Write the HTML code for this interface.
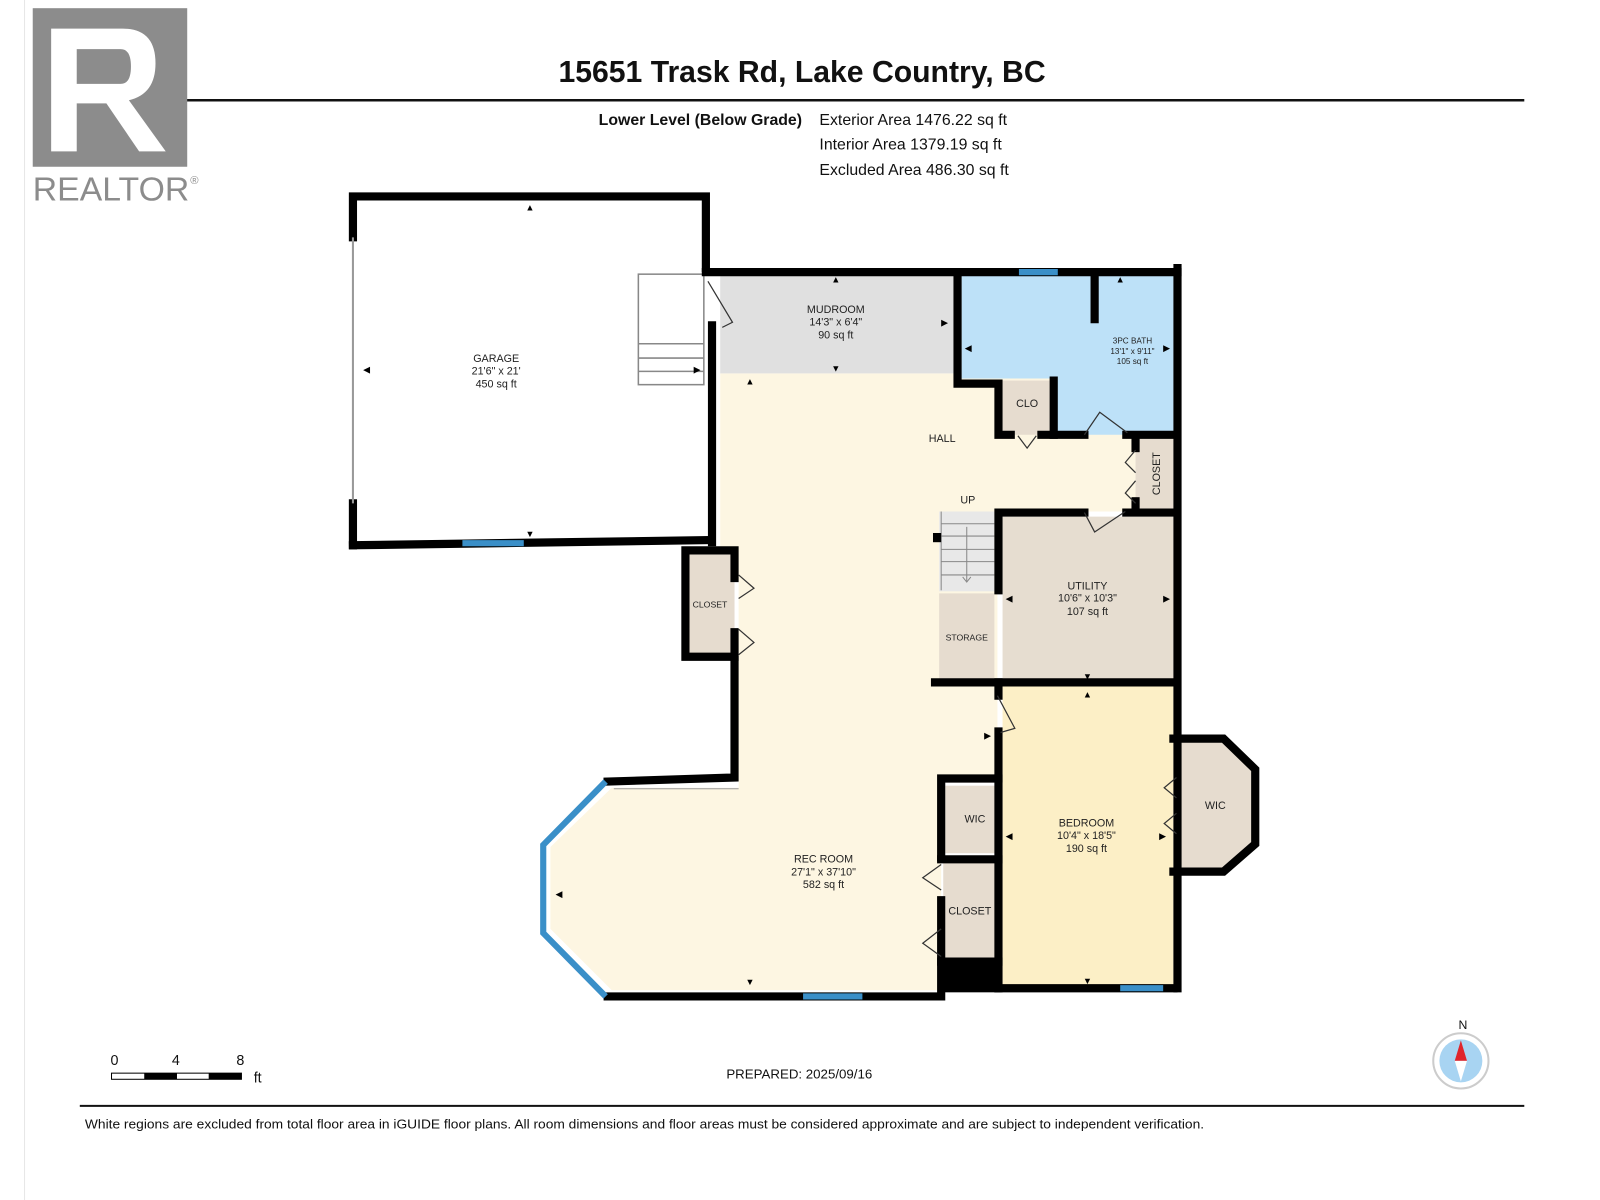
<!DOCTYPE html>
<html><head><meta charset="utf-8"><style>
html,body{margin:0;padding:0;background:#fff;}
svg{display:block;}
text{font-family:"Liberation Sans",Arial,sans-serif;}
</style></head><body>
<svg width="1600" height="1200" viewBox="0 0 1564 1173" xmlns="http://www.w3.org/2000/svg">
<rect width="1564" height="1173" fill="#fff"/>
<line x1="24" y1="0" x2="24" y2="1173" stroke="#e6e6e6" stroke-width="1"/>
<!-- header -->
<line x1="80" y1="98" x2="1490" y2="98" stroke="#111" stroke-width="2.5"/>
<rect x="32" y="8" width="151" height="155" fill="#8c8c8c"/>
<path d="M50 28 H120 Q152 28 152 62 Q152 92 126 98 L162 148 H136 L104 101 H75 V148 H50 Z M75 48 V82 H118 Q128 82 128 65 Q128 48 118 48 Z" fill="#fff"/>
<text x="32" y="196" font-size="33" fill="#8c8c8c" textLength="153">REALTOR</text>
<text x="186" y="180" font-size="11" fill="#8c8c8c">®</text>
<text x="784" y="80" font-size="29.5" font-weight="bold" text-anchor="middle" fill="#111">15651 Trask Rd, Lake Country, BC</text>
<text x="784" y="122" font-size="15.5" font-weight="bold" text-anchor="end" fill="#111">Lower Level (Below Grade)</text>
<text x="801" y="122" font-size="15.5" fill="#111">Exterior Area 1476.22 sq ft</text>
<text x="801" y="146" font-size="15.5" fill="#111">Interior Area 1379.19 sq ft</text>
<text x="801" y="171" font-size="15.5" fill="#111">Excluded Area 486.30 sq ft</text>

<!-- fills -->
<polygon points="704,365 1110,365 1110,500 975,500 975,765 920,765 920,968 598,968 538,908 538,828 598,770 722,770 722,540 704,540" fill="#fdf6e2"/>
<rect x="704" y="268" width="228" height="97" fill="#e0e0e0"/>
<polygon points="940,268 1147,268 1147,425 1030,425 1030,370 940,370" fill="#bde1f8"/>
<rect x="980" y="372" width="50" height="53" fill="#e6dccf"/>
<rect x="1110" y="428" width="37" height="70" fill="#e6dccf"/>
<rect x="980" y="505" width="167" height="160" fill="#e6ddd0"/>
<rect x="918" y="500" width="54" height="78" fill="#e8e8e8"/>
<g stroke="#888" stroke-width="1"><line x1="920" y1="512" x2="972" y2="512"/><line x1="920" y1="524" x2="972" y2="524"/><line x1="920" y1="537" x2="972" y2="537"/><line x1="920" y1="549" x2="972" y2="549"/><line x1="920" y1="562" x2="972" y2="562"/><line x1="920" y1="500" x2="920" y2="577"/><line x1="945" y1="515" x2="945" y2="568"/><polyline points="941,564 945,569 949,564" fill="none"/></g>
<rect x="918" y="580" width="54" height="85" fill="#e6dccf"/>
<rect x="980" y="670" width="167" height="293" fill="#fcefc6"/>
<polygon points="1152,722 1195,722 1228,752 1228,825 1195,852 1152,852" fill="#e6dccf"/>
<rect x="924" y="768" width="56" height="66" fill="#e6dccf"/>
<rect x="922" y="840" width="53" height="100" fill="#e6dccf"/>
<rect x="668" y="538" width="50" height="105" fill="#e6dccf"/>
<!-- garage stairs -->
<g stroke="#888" stroke-width="1.5" fill="#fff"><rect x="624" y="268" width="64" height="108"/><line x1="624" y1="336" x2="688" y2="336"/><line x1="624" y1="350" x2="688" y2="350"/><line x1="624" y1="363" x2="688" y2="363"/></g>

<!-- walls -->
<g fill="none" stroke="#000" stroke-width="8" stroke-linecap="square">
<polyline points="345,232 345,192 690,192 690,262"/>
<line x1="345" y1="492" x2="345" y2="533"/>
<polyline points="345,533 690,528"/>
<line x1="696" y1="318" x2="696" y2="530"/>
<line x1="690" y1="266" x2="1151" y2="266"/>
<polyline points="936,266 936,375 976,375 976,425 988,425"/>
<line x1="1018" y1="425" x2="1060" y2="425"/>
<line x1="1070" y1="266" x2="1070" y2="312"/>
<line x1="1030" y1="372" x2="1030" y2="425"/>
<line x1="1101" y1="425" x2="1147" y2="425"/>
<line x1="1151" y1="262" x2="1151" y2="966"/>
<polyline points="976,577 976,501 1060,501"/>
<line x1="1101" y1="501" x2="1147" y2="501"/>
<line x1="914" y1="667" x2="1147" y2="667"/>
<line x1="976" y1="667" x2="976" y2="680"/>
<polyline points="976,715 976,761 920,761 920,838"/>
<line x1="976" y1="761" x2="976" y2="966"/>
<line x1="920" y1="840" x2="976" y2="840"/>
<line x1="920" y1="940" x2="976" y2="940"/>
<line x1="976" y1="966" x2="1147" y2="966"/>
<polyline points="718,565 718,538 670,538 670,642 718,642 718,618"/>
<polyline points="718,645 718,760 594,764"/>
<polyline points="594,974 920,974 920,880"/>
<polyline points="1147,722 1196,722 1227,752 1227,825 1196,852 1147,852"/>
<line x1="1110" y1="428" x2="1110" y2="438"/>
<line x1="1110" y1="490" x2="1110" y2="498"/>
</g>
<rect x="918" y="940" width="60" height="30" fill="#000"/>
<rect x="912" y="521" width="8" height="9" fill="#000"/>
<!-- windows -->
<g stroke="#3a8fc8" stroke-width="6" stroke-linecap="butt">
<line x1="452" y1="531" x2="512" y2="531"/>
<line x1="996" y1="266" x2="1034" y2="266"/>
<line x1="1095" y1="966" x2="1137" y2="966"/>
<line x1="785" y1="974" x2="843" y2="974"/>
<polyline points="592,764 531,826 531,912 592,974" fill="none"/>
</g>
<polyline points="600,771 722,771" stroke="#999" stroke-width="1" fill="none"/>
<line x1="345" y1="232" x2="345" y2="492" stroke="#999" stroke-width="2"/>
<!-- doors -->
<g fill="none" stroke="#333" stroke-width="1.2">
<polyline points="692,275 716,315 706,320"/>
<polyline points="1060,425 1075,403 1102,423"/>
<polyline points="1060,501 1070,520 1100,500"/>
<polyline points="975,680 992,712 978,716"/>
<polyline points="995,426 1004,438 1013,426"/>
<polyline points="1110,440 1100,452 1110,462"/>
<polyline points="1110,470 1100,482 1110,492"/>
<polyline points="722,562 737,575 722,585"/>
<polyline points="722,615 737,628 722,640"/>
<polyline points="1150,760 1138,770 1150,780"/>
<polyline points="1150,795 1138,805 1150,815"/>
<polyline points="920,845 902,858 920,870"/>
<polyline points="920,908 902,922 920,935"/>
</g>
<!-- dim arrows -->
<g fill="#000" font-size="9">
<text x="518" y="206" text-anchor="middle">▲</text><text x="518" y="525" text-anchor="middle">▼</text>
<text x="355" y="364">◀</text><text x="678" y="364">▶</text>
<text x="817" y="276" text-anchor="middle">▲</text><text x="817" y="363" text-anchor="middle">▼</text>
<text x="920" y="318">▶</text><text x="943" y="343">◀</text><text x="1137" y="343">▶</text>
<text x="1095" y="276" text-anchor="middle">▲</text>
<text x="733" y="376" text-anchor="middle">▲</text><text x="733" y="963" text-anchor="middle">▼</text>
<text x="543" y="877">◀</text>
<text x="983" y="588">◀</text><text x="1137" y="588">▶</text>
<text x="1063" y="664" text-anchor="middle">▼</text><text x="1063" y="682" text-anchor="middle">▲</text>
<text x="983" y="820">◀</text><text x="1133" y="820">▶</text>
<text x="1063" y="962" text-anchor="middle">▼</text><text x="962" y="722">▶</text>
</g>
<!-- labels -->
<g fill="#222" text-anchor="middle" font-size="10.5">
<text x="485" y="354">GARAGE</text><text x="485" y="366">21'6" x 21'</text><text x="485" y="379">450 sq ft</text>
<text x="817" y="306">MUDROOM</text><text x="817" y="318">14'3" x 6'4"</text><text x="817" y="331">90 sq ft</text>
<text x="1107" y="336" font-size="8">3PC BATH</text><text x="1107" y="346" font-size="8">13'1" x 9'11"</text><text x="1107" y="356" font-size="8">105 sq ft</text>
<text x="921" y="432">HALL</text><text x="946" y="492">UP</text><text x="1004" y="398">CLO</text>
<text x="1134" y="463" transform="rotate(-90 1134 463)" font-size="10.5" dy="0">CLOSET</text>
<text x="694" y="594" font-size="8.5">CLOSET</text><text x="945" y="626" font-size="8.5">STORAGE</text>
<text x="1063" y="576">UTILITY</text><text x="1063" y="588">10'6" x 10'3"</text><text x="1063" y="601">107 sq ft</text>
<text x="1062" y="808">BEDROOM</text><text x="1062" y="820">10'4" x 18'5"</text><text x="1062" y="833">190 sq ft</text>
<text x="953" y="804">WIC</text><text x="1188" y="791">WIC</text><text x="948" y="894">CLOSET</text>
<text x="805" y="843">REC ROOM</text><text x="805" y="856">27'1" x 37'10"</text><text x="805" y="868">582 sq ft</text>
</g>
<!-- scale -->
<g font-size="14" fill="#111">
<text x="108" y="1041">0</text><text x="168" y="1041">4</text><text x="231" y="1041">8</text><text x="248" y="1058">ft</text>
</g>
<rect x="109" y="1049" width="127" height="6" fill="#fff" stroke="#000" stroke-width="1"/>
<rect x="141" y="1049" width="32" height="6" fill="#000"/><rect x="204" y="1049" width="32" height="6" fill="#000"/>
<text x="710" y="1054" font-size="13" fill="#111">PREPARED: 2025/09/16</text>
<text x="1430" y="1006" font-size="12" text-anchor="middle" fill="#111">N</text>
<circle cx="1428" cy="1037" r="27" fill="#fff" stroke="#ccc" stroke-width="2"/>
<circle cx="1428" cy="1037" r="21" fill="#a8d4f2"/>
<polygon points="1428,1017 1434,1037 1422,1037" fill="#e0242b"/>
<polygon points="1428,1057 1434,1037 1422,1037" fill="#fff"/>
<line x1="78" y1="1081" x2="1490" y2="1081" stroke="#111" stroke-width="2"/>
<text x="83" y="1103" font-size="12.5" fill="#111" textLength="1094" lengthAdjust="spacingAndGlyphs">White regions are excluded from total floor area in iGUIDE floor plans. All room dimensions and floor areas must be considered approximate and are subject to independent verification.</text>
</svg>
</body></html>
